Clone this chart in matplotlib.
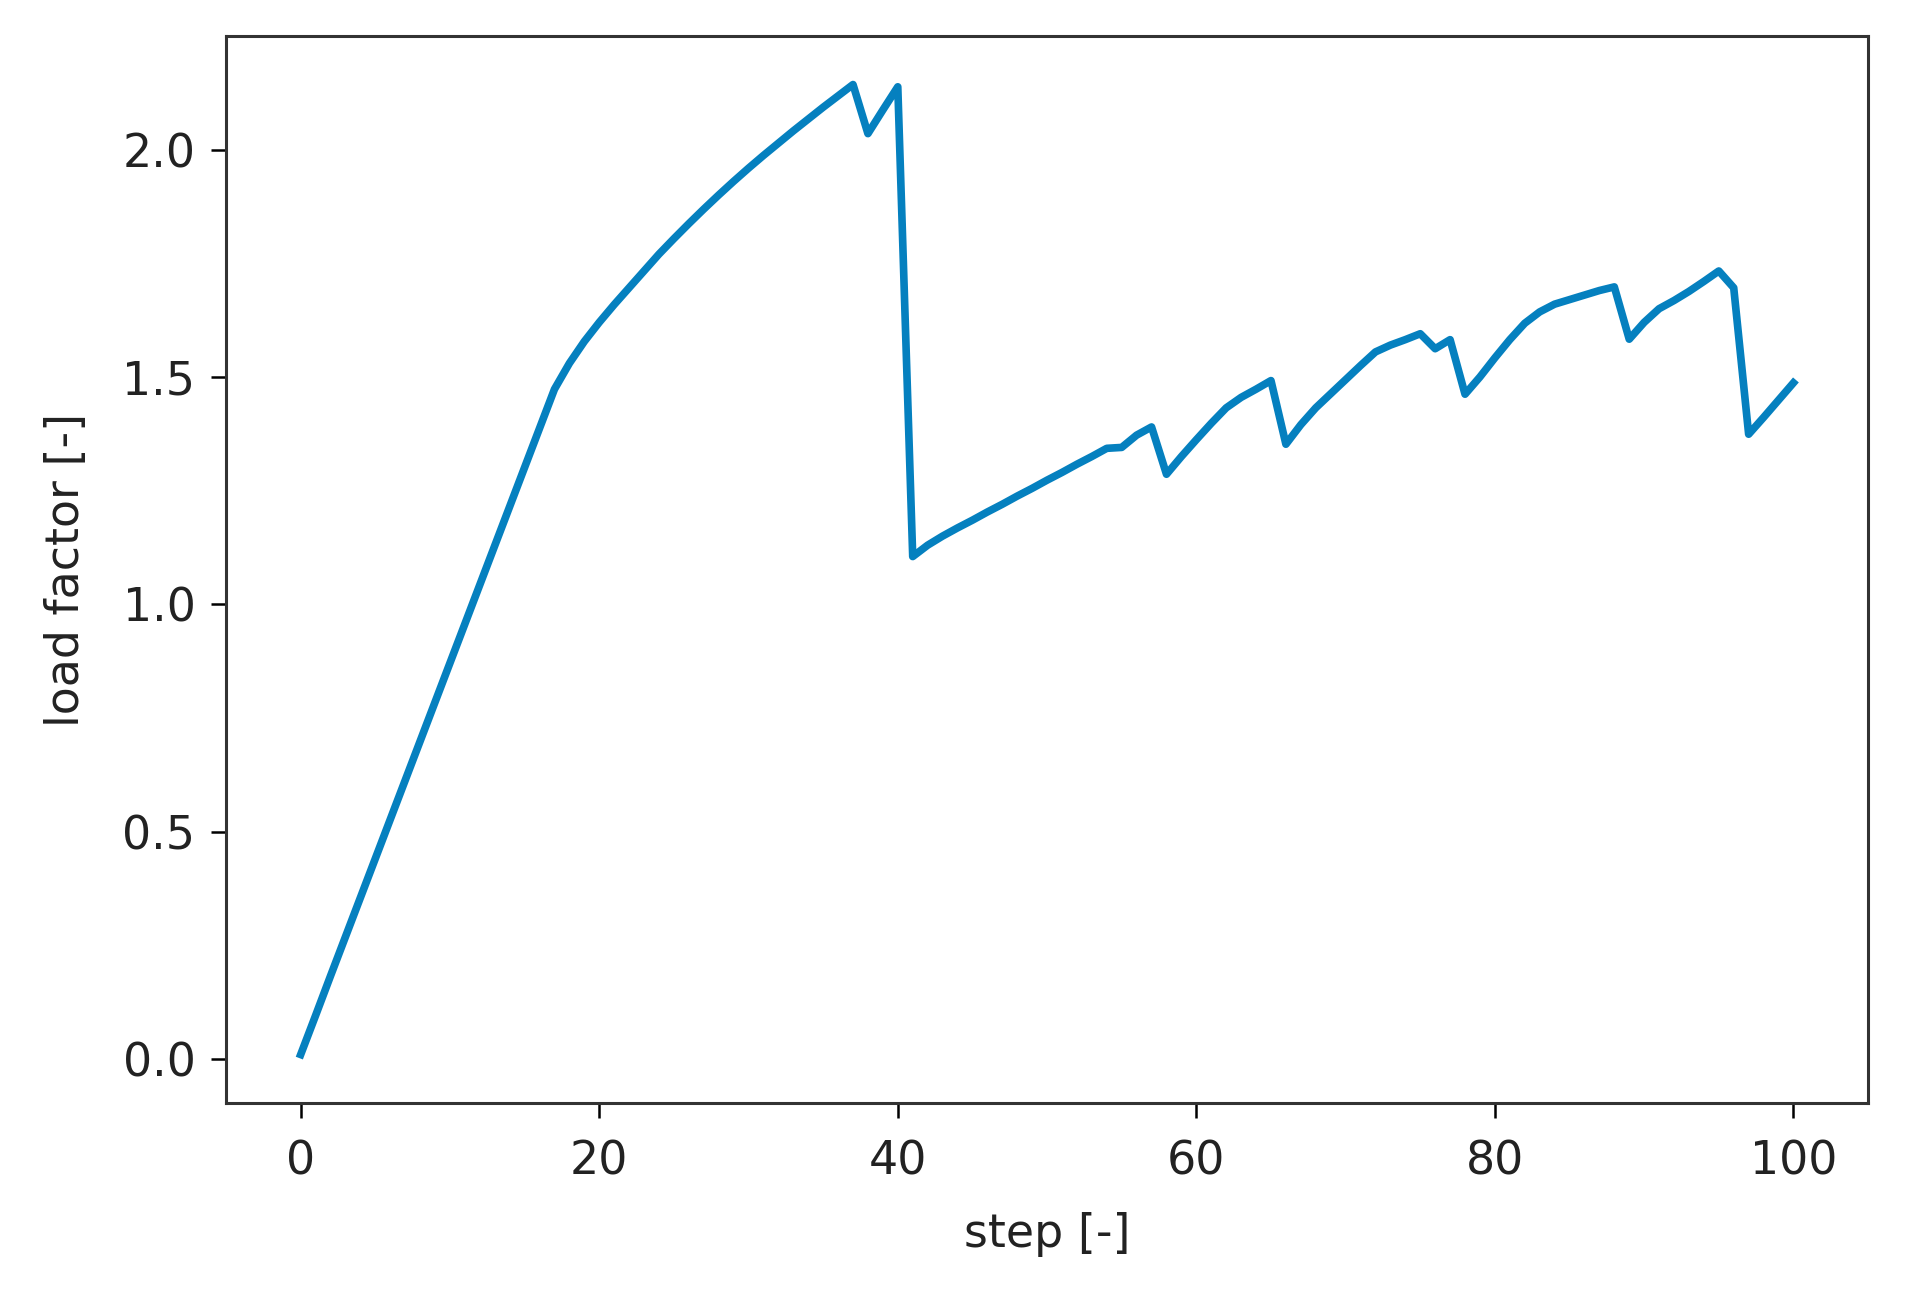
import matplotlib
matplotlib.use("Agg")
import matplotlib.pyplot as plt
import numpy as np

# data: load factor per step
steps = np.arange(0, 101)
load_factor = np.array([
    0.010, 0.096, 0.183, 0.269, 0.355, 0.441, 0.527, 0.613, 0.699, 0.785,   # 0-9
    0.871, 0.957, 1.043, 1.129, 1.215, 1.301, 1.387, 1.473, 1.530, 1.578,   # 10-19
    1.620, 1.659, 1.696, 1.733, 1.770, 1.804, 1.837, 1.869, 1.900, 1.930,   # 20-29
    1.959, 1.987, 2.014, 2.041, 2.067, 2.093, 2.118, 2.143, 2.035, 2.087,   # 30-39
    2.138, 1.105, 1.130, 1.150, 1.168, 1.185, 1.203, 1.220, 1.238, 1.255,   # 40-49
    1.273, 1.290, 1.308, 1.325, 1.343, 1.345, 1.372, 1.390, 1.286, 1.325,   # 50-59
    1.362, 1.398, 1.432, 1.455, 1.473, 1.492, 1.352, 1.395, 1.432, 1.463,   # 60-69
    1.494, 1.525, 1.555, 1.570, 1.582, 1.595, 1.562, 1.582, 1.462, 1.500,   # 70-79
    1.542, 1.582, 1.618, 1.643, 1.660, 1.670, 1.680, 1.690, 1.698, 1.583,   # 80-89
    1.620, 1.650, 1.668, 1.688, 1.710, 1.733, 1.696, 1.374, 1.411, 1.449,   # 90-99
    1.487,                                                                   # 100
])

fig = plt.figure(figsize=(19.06, 12.91), dpi=100)
ax = fig.add_axes([0.1186, 0.1456, 0.8615, 0.8265])

ax.plot(steps, load_factor, color="#0580bf", linewidth=5.5)

ax.set_xlabel("step [-]", fontsize=33, color="#222222", labelpad=20)
ax.set_ylabel("load factor [-]", fontsize=33, color="#222222", labelpad=24)

ax.set_xticks([0, 20, 40, 60, 80, 100])
ax.set_yticks([0.0, 0.5, 1.0, 1.5, 2.0])
ax.tick_params(axis="both", labelsize=33, length=11, width=1.8,
               labelcolor="#222222")
ax.tick_params(axis="x", pad=15)
ax.tick_params(axis="y", pad=11)
for sp in ax.spines.values():
    sp.set_linewidth(2.2)
    sp.set_color("#333333")

fig.savefig("out.png", dpi=100)
